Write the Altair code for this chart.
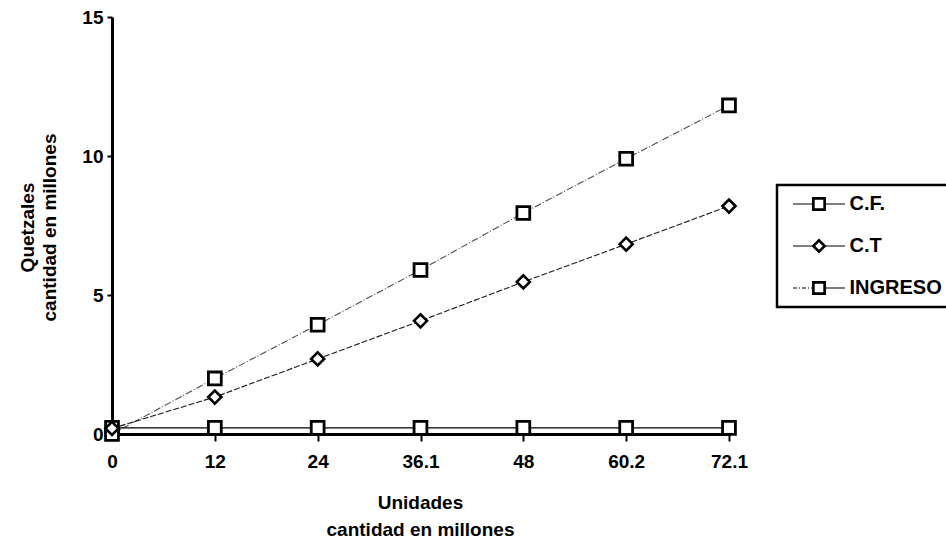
import altair as alt
import pandas as pd

# ---- data ----
x_labels = ["0", "12", "24", "36.1", "48", "60.2", "72.1"]
series_names = ["C.F.", "C.T", "INGRESO"]
cf_values = [0.22, 0.22, 0.22, 0.22, 0.22, 0.22, 0.22]
ct_values = [0.2, 1.33, 2.7, 4.07, 5.47, 6.83, 8.2]
ingreso_values = [0.0, 2.0, 3.93, 5.9, 7.95, 9.9, 11.82]

rows = []
for name, vals in zip(series_names, [cf_values, ct_values, ingreso_values]):
    for xl, v in zip(x_labels, vals):
        rows.append({"x": xl, "y": v, "series": name})
df = pd.DataFrame(rows)

FONT = "Liberation Sans"

# ---- legend symbol paths (line + marker) ----
# symbol unit = 6.5 px (symbolSize 169); path spans 52 px to the right
U = 6.5


def px(v):
    # convert px offset from entry start to symbol units
    return round((v - U) / U, 3)


def rect(x0, x1, h=0.09):
    return f"M{px(x0)},{-h}H{px(x1)}V{h}H{px(x0)}Z"


def square(cx, o, i):
    c = px(cx)
    o, i = o / U, i / U
    return (f"M{c - o:.3f},{-o:.3f}H{c + o:.3f}V{o:.3f}H{c - o:.3f}Z "
            f"M{c - i:.3f},{-i:.3f}V{i:.3f}H{c + i:.3f}V{-i:.3f}Z")


def diamond(cx, o, i):
    c = px(cx)
    o, i = o / U, i / U
    return (f"M{c:.3f},{-o:.3f}L{c + o:.3f},0L{c:.3f},{o:.3f}L{c - o:.3f},0Z "
            f"M{c:.3f},{-i:.3f}L{c - i:.3f},0L{c:.3f},{i:.3f}L{c + i:.3f},0Z")


S0, S1 = 3.5, 55.5
MID = (S0 + S1) / 2
path_cf = " ".join([rect(S0, MID - 7), rect(MID + 7, S1), square(MID, 7, 4.3)])
path_ct = " ".join([rect(S0, MID - 7), rect(MID + 7, S1), diamond(MID, 7.5, 3.8)])
path_ing = " ".join([
    rect(S0, S0 + 4), rect(S0 + 6, S0 + 7), rect(S0 + 9, S0 + 13),
    rect(S0 + 15, S0 + 16), rect(S0 + 18, MID - 7),
    rect(MID + 7, S1), square(MID, 7, 4.3),
])

x_enc = alt.X(
    "x:N",
    sort=x_labels,
    scale=alt.Scale(type="point", padding=0),
    axis=alt.Axis(
        title=["Unidades", "cantidad en millones"],
        labelAngle=0,
        labelFont=FONT, labelFontWeight="bold", labelFontSize=19, labelColor="black",
        labelPadding=11,
        tickSize=7, tickWidth=2, tickColor="black",
        domainWidth=3, domainColor="black",
        titleFont=FONT, titleFontWeight="bold", titleFontSize=19, titleColor="black",
        titleLineHeight=27, titleBaseline="alphabetic", titleY=74, titleX=308,
        grid=False,
    ),
)
y_enc = alt.Y(
    "y:Q",
    scale=alt.Scale(domain=[0, 15], nice=False, zero=True),
    axis=alt.Axis(
        title=["Quetzales", "cantidad en millones"],
        values=[0, 5, 10, 15],
        labelFont=FONT, labelFontWeight="bold", labelFontSize=19, labelColor="black",
        labelPadding=4,
        tickSize=5, tickWidth=2, tickColor="black",
        domainWidth=3, domainColor="black",
        titleFont=FONT, titleFontWeight="bold", titleFontSize=19, titleColor="black",
        titleLineHeight=22, titleAngle=270, titleBaseline="alphabetic", titleAlign="center",
        titleX=-79, titleY=210,
        grid=False,
    ),
)

base = alt.Chart(df)


def line_layer(name, color, dash, width):
    return base.transform_filter(alt.datum.series == name).mark_line(
        color=color, strokeDash=dash, strokeWidth=width
    ).encode(x=x_enc, y=y_enc)


line_cf = line_layer("C.F.", "#000000", [1, 0], 1.4)
line_ct = line_layer("C.T", "#1a1a1a", [6, 2], 1.1)
line_ing = line_layer("INGRESO", "#4d4d4d", [7, 2, 1, 2], 1.1)

squares = base.transform_filter(alt.datum.series != "C.T").mark_point(
    shape="square", size=165, fill="white", fillOpacity=1, filled=False,
    stroke="black", strokeWidth=2.8, opacity=1,
).encode(x=x_enc, y=y_enc)

diamonds = base.transform_filter(alt.datum.series == "C.T").mark_point(
    shape="diamond", size=170, fill="white", fillOpacity=1, filled=False,
    stroke="black", strokeWidth=2.6, opacity=1,
).encode(x=x_enc, y=y_enc)

legend_layer = base.mark_point(filled=True, opacity=0, color="black").encode(
    x=x_enc,
    y=y_enc,
    shape=alt.Shape(
        "series:N",
        scale=alt.Scale(domain=series_names, range=[path_cf, path_ct, path_ing]),
        legend=alt.Legend(
            title=None,
            orient="none", legendX=665, legendY=168,
            symbolSize=U * U * 4, symbolOpacity=1, symbolFillColor="black",
            symbolStrokeWidth=0, symbolStrokeColor="black",
            labelFont=FONT, labelFontWeight="bold", labelFontSize=20, labelColor="black",
            labelOffset=43.5, rowPadding=22, padding=9,
            strokeColor="black",
        ),
    ),
)

chart = alt.layer(line_ing, line_ct, line_cf, squares, diamonds, legend_layer).properties(
    width=617, height=417,
    autosize=alt.AutoSizeParams(type="none"),
    padding={"left": 112, "top": 17, "right": 217, "bottom": 107},
).configure_view(stroke=None).configure_legend(strokeWidth=2.5)

chart.save("out.html", embed_options={"renderer": "svg", "actions": False})
